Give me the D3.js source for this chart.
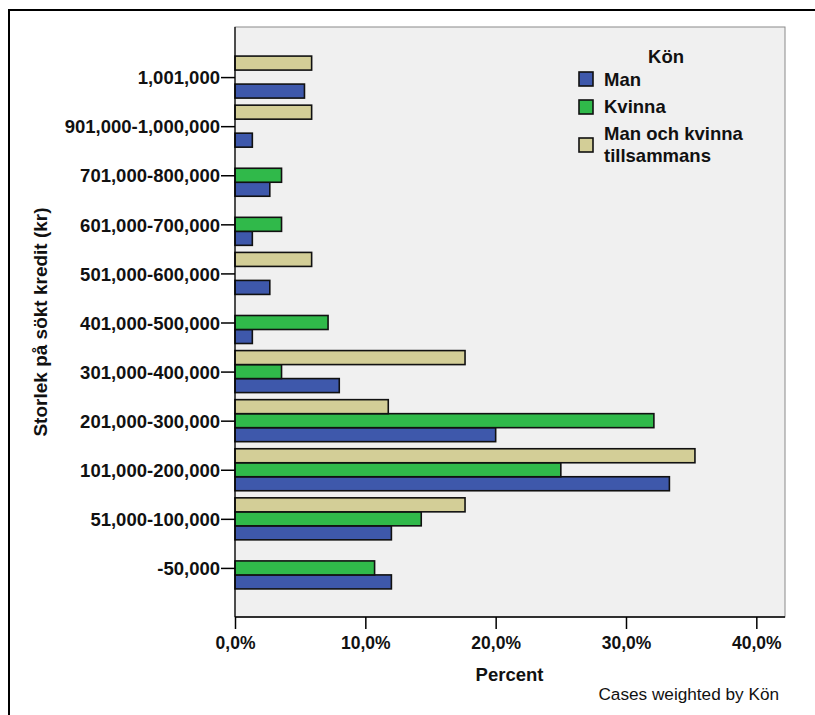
<!DOCTYPE html>
<html>
<head>
<meta charset="utf-8">
<script src="https://cdn.jsdelivr.net/npm/d3@7"></script>
<style>
  html, body { margin: 0; padding: 0; background: #fff; }
  svg { display: block; }
</style>
</head>
<body>
<svg id="chart" width="815" height="715"></svg>
<script>
// ---- data (top-to-bottom order as drawn) ----
const categories = ["1,001,000", "901,000-1,000,000", "701,000-800,000", "601,000-700,000",
  "501,000-600,000", "401,000-500,000", "301,000-400,000", "201,000-300,000",
  "101,000-200,000", "51,000-100,000", "-50,000"];
const seriesNames = ["Man", "Kvinna", "Man och kvinna tillsammans"];
const manValues = [5.33, 1.33, 2.67, 1.33, 2.67, 1.33, 8.0, 20.0, 33.33, 12.0, 12.0];
const kvinnaValues = [0, 0, 3.57, 3.57, 0, 7.14, 3.57, 32.14, 25.0, 14.29, 10.71];
const tillsammansValues = [5.88, 5.88, 0, 0, 5.88, 0, 17.65, 11.76, 35.29, 17.65, 0];
const xTicks = [0, 10, 20, 30, 40];
const colors = ["#3e58ab", "#30b94a", "#d3ce97"];

const seriesValues = [manValues, kvinnaValues, tillsammansValues];

const svg = d3.select("#chart");
const boldFont = "'Liberation Sans', Arial, sans-serif";

// outer frame (open to right/bottom edges)
svg.append("path")
  .attr("d", "M9,730 L9,10 L830,10")
  .attr("fill", "none").attr("stroke", "#000").attr("stroke-width", 2);

const pLeft = 235, pRight = 785, pTop = 27, pBottom = 617;

const x = d3.scaleLinear().domain([0, 42.2]).range([pLeft, pRight]);
const y = d3.scalePoint().domain(categories).range([pTop + 1, pBottom]).padding(1);
// inner order: top = tillsammans, middle = Kvinna, bottom = Man
const inner = d3.scaleBand().domain([2, 1, 0]).range([-21, 21]);

// plot background
svg.append("rect")
  .attr("x", pLeft).attr("y", pTop)
  .attr("width", pRight - pLeft).attr("height", pBottom - pTop)
  .attr("fill", "#f0f0f0").attr("stroke", "#8a8a8a").attr("stroke-width", 1);

// bars
const rows = [];
categories.forEach((c, i) => {
  seriesValues.forEach((vals, s) => rows.push({ cat: c, s: s, v: vals[i] }));
});

svg.append("g").selectAll("rect")
  .data(rows)
  .join("rect")
  .attr("x", x(0))
  .attr("y", d => y(d.cat) + inner(d.s))
  .attr("width", d => x(d.v) - x(0))
  .attr("height", inner.bandwidth())
  .attr("fill", d => colors[d.s])
  .attr("stroke", "#111")
  .attr("stroke-width", 1.6);

// axes lines
svg.append("line").attr("x1", pLeft).attr("x2", pLeft).attr("y1", pTop).attr("y2", pBottom)
  .attr("stroke", "#000").attr("stroke-width", 1.2);
svg.append("line").attr("x1", pLeft).attr("x2", pRight).attr("y1", pBottom).attr("y2", pBottom)
  .attr("stroke", "#000").attr("stroke-width", 1.5);

// y axis
const yAxis = d3.axisLeft(y).tickSize(14).tickPadding(1);
const gy = svg.append("g").attr("transform", `translate(${pLeft},0)`).call(yAxis);
gy.select(".domain").remove();
gy.selectAll(".tick line").attr("stroke", "#000").attr("stroke-width", 1.5);
gy.selectAll(".tick text")
  .attr("font-family", boldFont).attr("font-weight", "bold")
  .attr("font-size", "18.5px").attr("fill", "#111").attr("dy", "0.36em");

// x axis
const xAxis = d3.axisBottom(x).tickValues(xTicks).tickSize(12).tickPadding(8)
  .tickFormat(d => d3.format(".1f")(d).replace(".", ",") + "%");
const gx = svg.append("g").attr("transform", `translate(0,${pBottom})`).call(xAxis);
gx.select(".domain").remove();
gx.selectAll(".tick line").attr("stroke", "#000").attr("stroke-width", 1.5);
gx.selectAll(".tick text")
  .attr("font-family", boldFont).attr("font-weight", "bold")
  .attr("font-size", "17.5px").attr("fill", "#111");

// axis titles
svg.append("text")
  .attr("x", (pLeft + pRight) / 2 - 0.5).attr("y", 681)
  .attr("text-anchor", "middle")
  .attr("font-family", boldFont).attr("font-weight", "bold").attr("font-size", "18.5px")
  .attr("fill", "#111").text("Percent");

svg.append("text")
  .attr("transform", `translate(47,${(pTop + pBottom) / 2}) rotate(-90)`)
  .attr("text-anchor", "middle")
  .attr("font-family", boldFont).attr("font-weight", "bold").attr("font-size", "19px")
  .attr("fill", "#111").text("Storlek på sökt kredit (kr)");

svg.append("text")
  .attr("x", 779).attr("y", 700)
  .attr("text-anchor", "end")
  .attr("font-family", boldFont).attr("font-size", "17.2px")
  .attr("fill", "#111").text("Cases weighted by Kön");

// legend
const lg = svg.append("g");
lg.append("text").attr("x", 666).attr("y", 63).attr("text-anchor", "middle")
  .attr("font-family", boldFont).attr("font-weight", "bold").attr("font-size", "18.5px")
  .attr("fill", "#111").text("Kön");

const legendItems = [
  { s: 0, sy: 72, lines: ["Man"], ty: [86] },
  { s: 1, sy: 100, lines: ["Kvinna"], ty: [113] },
  { s: 2, sy: 138, lines: ["Man och kvinna", "tillsammans"], ty: [140, 161.5] }
];
legendItems.forEach(it => {
  lg.append("rect").attr("x", 579).attr("y", it.sy).attr("width", 14).attr("height", 14)
    .attr("fill", colors[it.s]).attr("stroke", "#111").attr("stroke-width", 1.6);
  it.lines.forEach((t, k) => {
    lg.append("text").attr("x", 604).attr("y", it.ty[k])
      .attr("font-family", boldFont).attr("font-weight", "bold").attr("font-size", "18.5px")
      .attr("fill", "#111").text(t);
  });
});
</script>
</body>
</html>
